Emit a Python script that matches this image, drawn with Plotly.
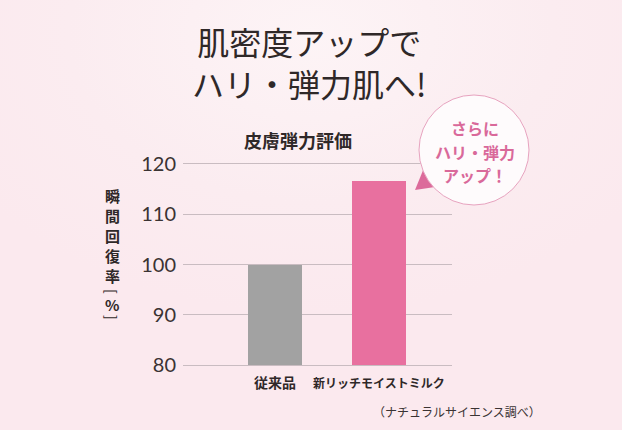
import base64
import plotly.graph_objects as go

# ---- data ----
categories = ["従来品", "新リッチモイストミルク"]
values = [100, 116.7]
bar_colors = ["#a2a2a2", "#e8709f"]
y_ticks = [80, 90, 100, 110, 120]
y_label_chars = ["瞬", "間", "回", "復", "率", "[", "%", "]"]
title_lines = ["肌密度アップで", "ハリ・弾力肌へ!"]
chart_title = "皮膚弾力評価"
bubble_lines = ["さらに", "ハリ・弾力", "アップ！"]
footnote = "（ナチュラルサイエンス調べ）"

W, H = 622, 430
L, R, T, B = 183, 452, 164, 365
pw, ph = R - L, B - T


def px(x):
    return (x - L) / pw


def py(y):
    return (B - y) / ph


SANS = "Noto Sans CJK JP"
DARK = "#2f2828"
BG = "#fbeaef"

fig = go.Figure()
fig.add_trace(go.Bar(
    x=[0, 1], y=[v - 80 for v in values], base=80,
    width=0.52, marker=dict(color=bar_colors, line=dict(width=0)),
    hoverinfo="skip",
))

# background gradient
svg = (
    f'<svg xmlns="http://www.w3.org/2000/svg" width="{W}" height="{H}">'
    '<defs><radialGradient id="g" cx="0.5" cy="0.08" r="0.65">'
    '<stop offset="0" stop-color="#fdf4f6"/>'
    '<stop offset="0.6" stop-color="#fbecf0"/>'
    '<stop offset="1" stop-color="#fbe9ee"/>'
    '</radialGradient></defs>'
    f'<rect width="{W}" height="{H}" fill="url(#g)"/></svg>'
)
src = "data:image/svg+xml;base64," + base64.b64encode(svg.encode()).decode()

annotations = []
# main title (two lines)
annotations.append(dict(
    text="<br>".join(title_lines), x=px(309), y=py(62), xref="paper", yref="paper",
    showarrow=False, xanchor="center", yanchor="middle", align="center",
    font=dict(family=SANS, size=32, color=DARK),
))
# chart title
annotations.append(dict(
    text=f"<b>{chart_title}</b>", x=px(298), y=py(140), xref="paper", yref="paper",
    showarrow=False, xanchor="center", yanchor="middle",
    font=dict(family=SANS, size=18, color=DARK),
))
# vertical y-axis label
y_char_pos = [195, 215, 235, 255, 275, 291, 304, 317]
y_char_angle = [0, 0, 0, 0, 0, 90, 0, 90]
for ch, yy, ang in zip(y_label_chars, y_char_pos, y_char_angle):
    annotations.append(dict(
        text=f"<b>{ch}</b>" if ang == 0 else ch, x=px(112), y=py(yy),
        xref="paper", yref="paper", textangle=ang, borderpad=0,
        showarrow=False, xanchor="center", yanchor="middle",
        font=dict(family=SANS, size=15 if ang == 0 else 14, color=DARK),
    ))
# category labels
cat_sizes = [14, 12]
for i, (c, s) in enumerate(zip(categories, cat_sizes)):
    annotations.append(dict(
        text=f"<b>{c}</b>", x=i, y=py(382), xref="x", yref="paper",
        showarrow=False, xanchor="center", yanchor="middle",
        font=dict(family=SANS, size=s, color=DARK),
    ))
# footnote
annotations.append(dict(
    text=footnote, x=px(543), y=py(411), xref="paper", yref="paper",
    showarrow=False, xanchor="right", yanchor="middle",
    font=dict(family=SANS, size=12, color="#3a3333"),
))
# bubble text
for line, yy in zip(bubble_lines, [128, 152, 175]):
    annotations.append(dict(
        text=f"<b>{line}</b>", x=px(475), y=py(yy), xref="paper", yref="paper",
        showarrow=False, xanchor="center", yanchor="middle",
        font=dict(family=SANS, size=16, color="#d9699a"),
    ))

cx, cy, r = 474, 150, 55
tail = (f"M {px(428)},{py(158)} L {px(415)},{py(190)} "
        f"L {px(455)},{py(184)} Z")
shapes = [
    dict(type="path", path=tail, xref="paper", yref="paper",
         fillcolor="#dc6b9b", line=dict(width=0), layer="above"),
    dict(type="circle", xref="paper", yref="paper",
         x0=px(cx - r), x1=px(cx + r), y0=py(cy + r), y1=py(cy - r),
         fillcolor="#fefbfc", line=dict(color="#e7a3bf", width=1), layer="above"),
]

fig.update_layout(
    width=W, height=H,
    margin=dict(l=L, r=W - R, t=T, b=H - B, pad=0),
    paper_bgcolor=BG, plot_bgcolor="rgba(0,0,0,0)",
    showlegend=False,
    images=[dict(source=src, xref="paper", yref="paper",
                 x=px(0), y=py(0), sizex=W / pw, sizey=H / ph,
                 xanchor="left", yanchor="top", sizing="stretch", layer="below")],
    xaxis=dict(range=[-0.885, 1.702], showgrid=False, showticklabels=False,
               zeroline=False, showline=True, mirror=True,
               linecolor="#c9bcc1", linewidth=1, fixedrange=True),
    yaxis=dict(range=[80, 120], tickvals=y_ticks, ticktext=[str(t) for t in y_ticks],
               showgrid=True, gridcolor="#c9bcc1", gridwidth=1, zeroline=False,
               showline=False, ticks="", ticklabelstandoff=6,
               tickfont=dict(family="Lato", size=20, color="#3a3333"), fixedrange=True),
    annotations=annotations,
    shapes=shapes,
    bargap=0,
)

fig.write_html(
    "out.html",
    config={"displayModeBar": False, "staticPlot": True},
    post_script=(
        "document.body.style.margin='0';"
        "document.body.style.padding='0';"
        f"document.body.style.background='{BG}';"
        "document.documentElement.style.overflow='hidden';"
    ),
)
